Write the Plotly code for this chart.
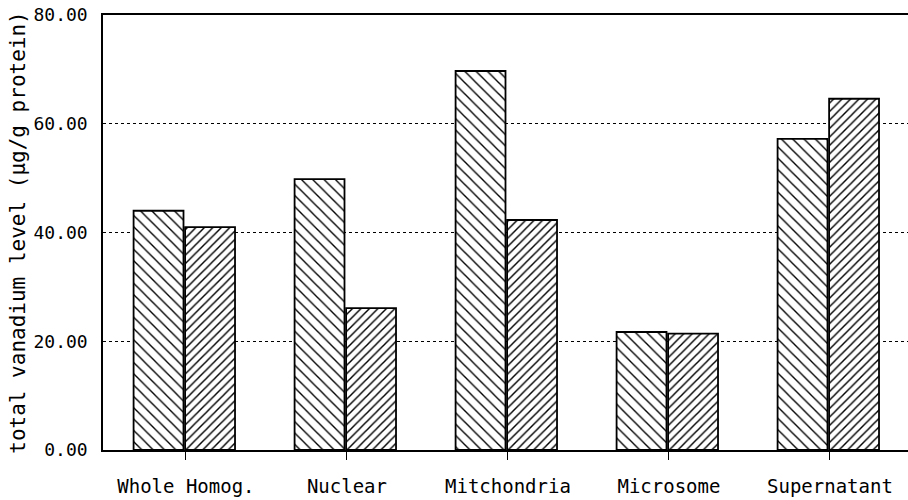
import plotly.graph_objects as go

categories = ["Whole Homog.", "Nuclear", "Mitchondria", "Microsome", "Supernatant"]
series_a = [44.0, 49.8, 69.7, 21.7, 57.2]
series_b = [41.0, 26.1, 42.3, 21.4, 64.6]
y_ticks = [0, 20, 40, 60, 80]
y_tick_labels = ["0.00", "20.00", "40.00", "60.00", "80.00"]

FONT = "DejaVu Sans Mono"

fig = go.Figure()
fig.add_trace(go.Bar(
    x=list(range(len(categories))), y=series_a, width=0.31, offset=-0.325,
    marker=dict(color="white", line=dict(color="black", width=1.8),
                pattern=dict(shape="\\", fgcolor="black", fgopacity=1, bgcolor="white",
                             size=8, solidity=0.17)),
    showlegend=False, hoverinfo="skip",
))
fig.add_trace(go.Bar(
    x=list(range(len(categories))), y=series_b, width=0.31, offset=-0.005,
    marker=dict(color="white", line=dict(color="black", width=1.8),
                pattern=dict(shape="/", fgcolor="black", fgopacity=1, bgcolor="white",
                             size=6, solidity=0.24)),
    showlegend=False, hoverinfo="skip",
))

fig.update_layout(
    width=908, height=500,
    margin=dict(l=103, r=0, t=15, b=50),
    paper_bgcolor="white", plot_bgcolor="white",
    font=dict(family=FONT, color="black", size=18),
    barmode="overlay",
)
fig.update_xaxes(
    range=[-0.515, 4.485],
    tickmode="array", tickvals=list(range(len(categories))), ticktext=categories,
    showline=True, linecolor="black", linewidth=1.5, mirror=True,
    ticks="outside", ticklen=8, tickcolor="black", tickwidth=1,
    ticklabelstandoff=10,
    showgrid=False, zeroline=False,
    tickfont=dict(family=FONT, size=19),
)
fig.update_yaxes(
    range=[0, 80],
    tickmode="array", tickvals=y_ticks, ticktext=y_tick_labels,
    showline=True, linecolor="black", linewidth=1.5, mirror=False,
    ticks="", ticklabelstandoff=10,
    showgrid=True, gridcolor="black", gridwidth=1, griddash="dot",
    zeroline=False,
    tickfont=dict(family=FONT, size=18),
    title=dict(text="total vanadium level (μg/g protein)", font=dict(family=FONT, size=21), standoff=2),
)

fig.write_html("out.html", config={"displayModeBar": False},
               post_script="document.body.style.margin='0';")
